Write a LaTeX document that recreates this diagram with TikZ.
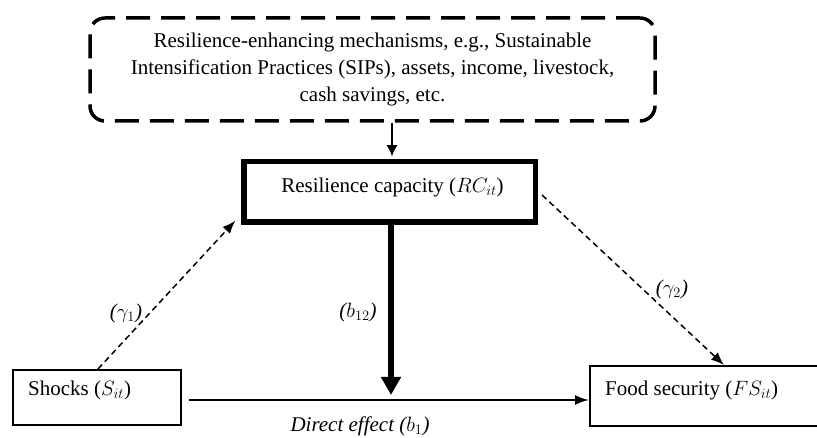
\documentclass[tikz,border=0pt]{standalone}
\usepackage{fontspec}
\setmainfont{Liberation Serif}
\usepackage{tikz}
\usetikzlibrary{calc,arrows,arrows.meta,positioning}
\tikzset{mechbox/.style={draw,line width=3.5pt,dash pattern=on 24pt off 11pt,rounded corners=15pt,align=center,inner sep=0pt},
capbox/.style={draw,line width=5.5pt,inner sep=0pt},
varbox/.style={draw,line width=2pt,inner sep=0pt}}

\begin{document}
\begin{tikzpicture}[x=1pt,y=-1pt,font=\fontsize{21}{27}\selectfont]

\tikzset{dasharrow/.style={line width=1.5pt,dash pattern=on 6pt off 4pt,-{Latex[length=13pt,width=10pt]}},
solidarrow/.style={line width=2pt,-{Latex[length=14pt,width=10pt]}},
thickarrow/.style={line width=6.5pt,-{Triangle[length=18pt,width=19pt]}},
efflabel/.style={font=\fontsize{21}{27}\selectfont\itshape,inner sep=0pt}}

\clip (0,0) rectangle (817,438);

% Boxes
\node[mechbox,minimum width=565pt,minimum height=103pt] (mech) at (372.5,69.5) {Resilience-enhancing mechanisms, e.g., Sustainable\\Intensification Practices (SIPs), assets, income, livestock,\\cash savings, etc.};
\node[capbox,minimum width=291.5pt,minimum height=60.5pt] (rc) at (389.5,192) {};
\node[inner sep=0pt] (rclbl) at (392.5,187) {Resilience capacity ($RC_{it}$)};
\node[varbox,minimum width=168pt,minimum height=55pt] (shocks) at (97,397.5) {};
\node[varbox,minimum width=240pt,minimum height=60pt] (food) at (710,396) {};

% Box texts
\node[anchor=west,inner sep=0pt] (shockslbl) at ([xshift=16pt,yshift=7.5pt]shocks.west) {Shocks ($S_{it}$)};
\node[anchor=west,inner sep=0pt] (foodlbl) at ([xshift=16pt,yshift=6pt]food.west) {Food security ($FS_{it}$)};

% Arrows
\draw[line width=1.5pt,-{Latex[length=11pt,width=11pt]}] ([xshift=19.5pt]mech.south) -- ([xshift=2.5pt,yshift=2.75pt]rc.north);
\coordinate (tip) at (391,395);
\draw[thickarrow] (rc.south -| tip) -- (tip);
\coordinate (hstart) at ([xshift=7pt,yshift=-2.5pt]shocks.east);
\draw[solidarrow] (hstart) -- (hstart -| food.west);
\draw[dasharrow] ([xshift=1pt]shocks.north) -- ([xshift=-5.75pt,yshift=4.25pt]rc.south west);
\draw[dasharrow] ([xshift=4pt,yshift=-3pt]rc.east) -- ([xshift=14pt]food.north);

% Effect labels
\node[efflabel] (g1) at (126,313) {($\gamma_1$)};
\node[efflabel] (b12) at (358,312) {($b_{12}$)};
\node[efflabel] (g2) at (672,289) {($\gamma_2$)};
\node[efflabel] (direct) at (360,426) {Direct effect ($b_1$)};

\end{tikzpicture}
\end{document}
